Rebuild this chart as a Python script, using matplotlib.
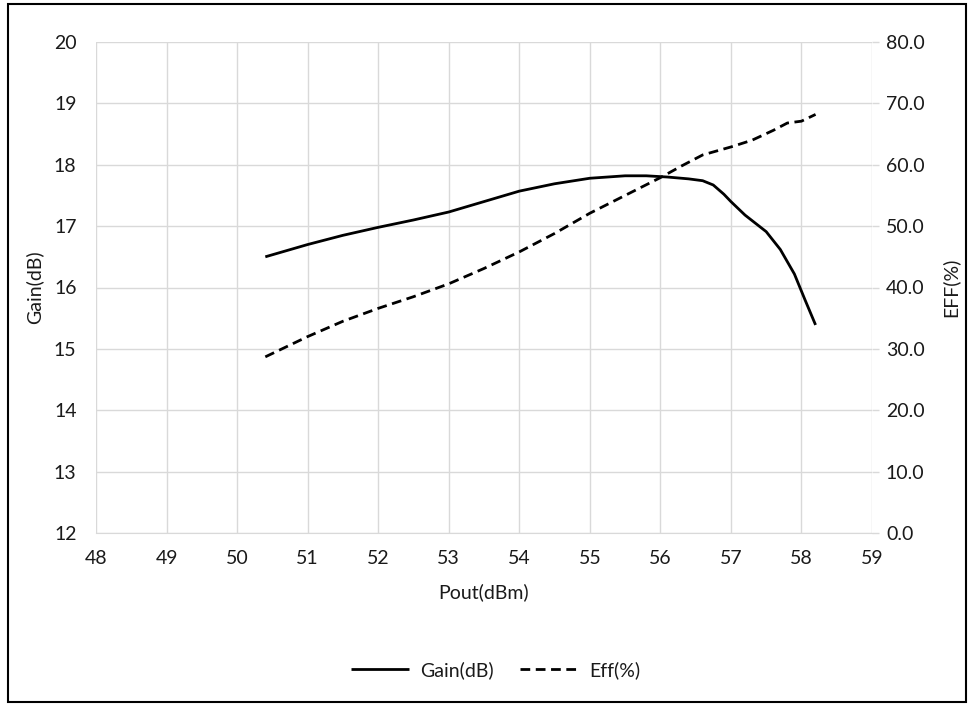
import matplotlib
matplotlib.use("Agg")
import matplotlib.pyplot as plt
from matplotlib.patches import Rectangle

plt.rcParams['font.family'] = ['Lato', 'DejaVu Sans']

pout_gain = [50.4, 51.0, 51.5, 52.0, 52.5, 53.0, 53.5, 54.0, 54.5, 55.0, 55.5, 55.8, 56.1, 56.4, 56.6, 56.75, 56.9, 57.0, 57.2, 57.5, 57.7, 57.9, 58.05, 58.2]
gain = [16.50, 16.70, 16.85, 16.98, 17.10, 17.23, 17.40, 17.57, 17.69, 17.78, 17.82, 17.82, 17.80, 17.77, 17.74, 17.67, 17.52, 17.40, 17.18, 16.91, 16.62, 16.22, 15.80, 15.39]

pout_eff = [50.4, 51.0, 51.5, 52.0, 52.5, 53.0, 53.5, 54.0, 54.5, 55.0, 55.5, 56.0, 56.3, 56.6, 57.0, 57.3, 57.6, 57.8, 58.0, 58.2]
eff = [28.7, 32.0, 34.5, 36.6, 38.5, 40.6, 43.1, 45.8, 48.8, 52.1, 55.0, 57.9, 59.8, 61.6, 62.9, 64.0, 65.6, 66.8, 67.1, 68.2]

x_ticks = list(range(48, 60))
gain_ticks = list(range(12, 21))
eff_ticks = [0, 10, 20, 30, 40, 50, 60, 70, 80]

fig = plt.figure(figsize=(9.68, 7.04), dpi=100)
ax = fig.add_axes([96/968, 1-533/704, 776/968, 491/704])
ax2 = ax.twinx()

grid_c = '#d9d9d9'
txt_c = '#1a1a1a'
fs = 14
l1, = ax.plot(pout_gain, gain, color='black', lw=2.0, label='Gain(dB)', solid_capstyle='butt')
l2, = ax2.plot(pout_eff, eff, color='black', lw=2.0, ls=(0, (3.5, 2)), label='Eff(%)')

ax.set_xlim(48, 59)
ax.set_ylim(12, 20)
ax2.set_ylim(0, 80)
ax.set_xticks(x_ticks)
ax.set_yticks(gain_ticks)
ax2.set_yticks(eff_ticks)
ax2.set_yticklabels([f"{v:.1f}" for v in eff_ticks])
ax.grid(True, color=grid_c, lw=1.0)
ax.set_axisbelow(True)
for a in (ax, ax2):
    for s in a.spines.values():
        s.set_visible(False)
ax.spines['bottom'].set_visible(True)
ax.spines['bottom'].set_color(grid_c)
ax.tick_params(axis='x', length=0, pad=12, labelsize=fs, colors=txt_c)
ax.tick_params(axis='y', length=0, pad=14, labelsize=fs, colors=txt_c)
ax2.tick_params(axis='y', length=5, color=grid_c, width=1, pad=5, labelsize=fs, colors=txt_c)
for lab in ax.get_xticklabels() + ax.get_yticklabels() + ax2.get_yticklabels():
    lab.set_color(txt_c)

ax.set_xlabel('Pout(dBm)', fontsize=fs, color=txt_c, labelpad=12)
ax.set_ylabel('Gain(dB)', fontsize=fs, color=txt_c, labelpad=8)
ax2.set_ylabel('EFF(%)', fontsize=fs, color=txt_c, labelpad=12)

fig.legend(handles=[l1, l2], loc='center', bbox_to_anchor=(0.512, 1-670/704), ncol=2,
           frameon=False, fontsize=fs, handlelength=3.0, handletextpad=0.6, columnspacing=1.3, labelcolor=txt_c)

fig.patches.append(Rectangle((8/968, 2/704), 958/968, 698/704, transform=fig.transFigure,
                             fill=False, edgecolor='black', lw=1.5))

fig.savefig('out.png', dpi=100)
